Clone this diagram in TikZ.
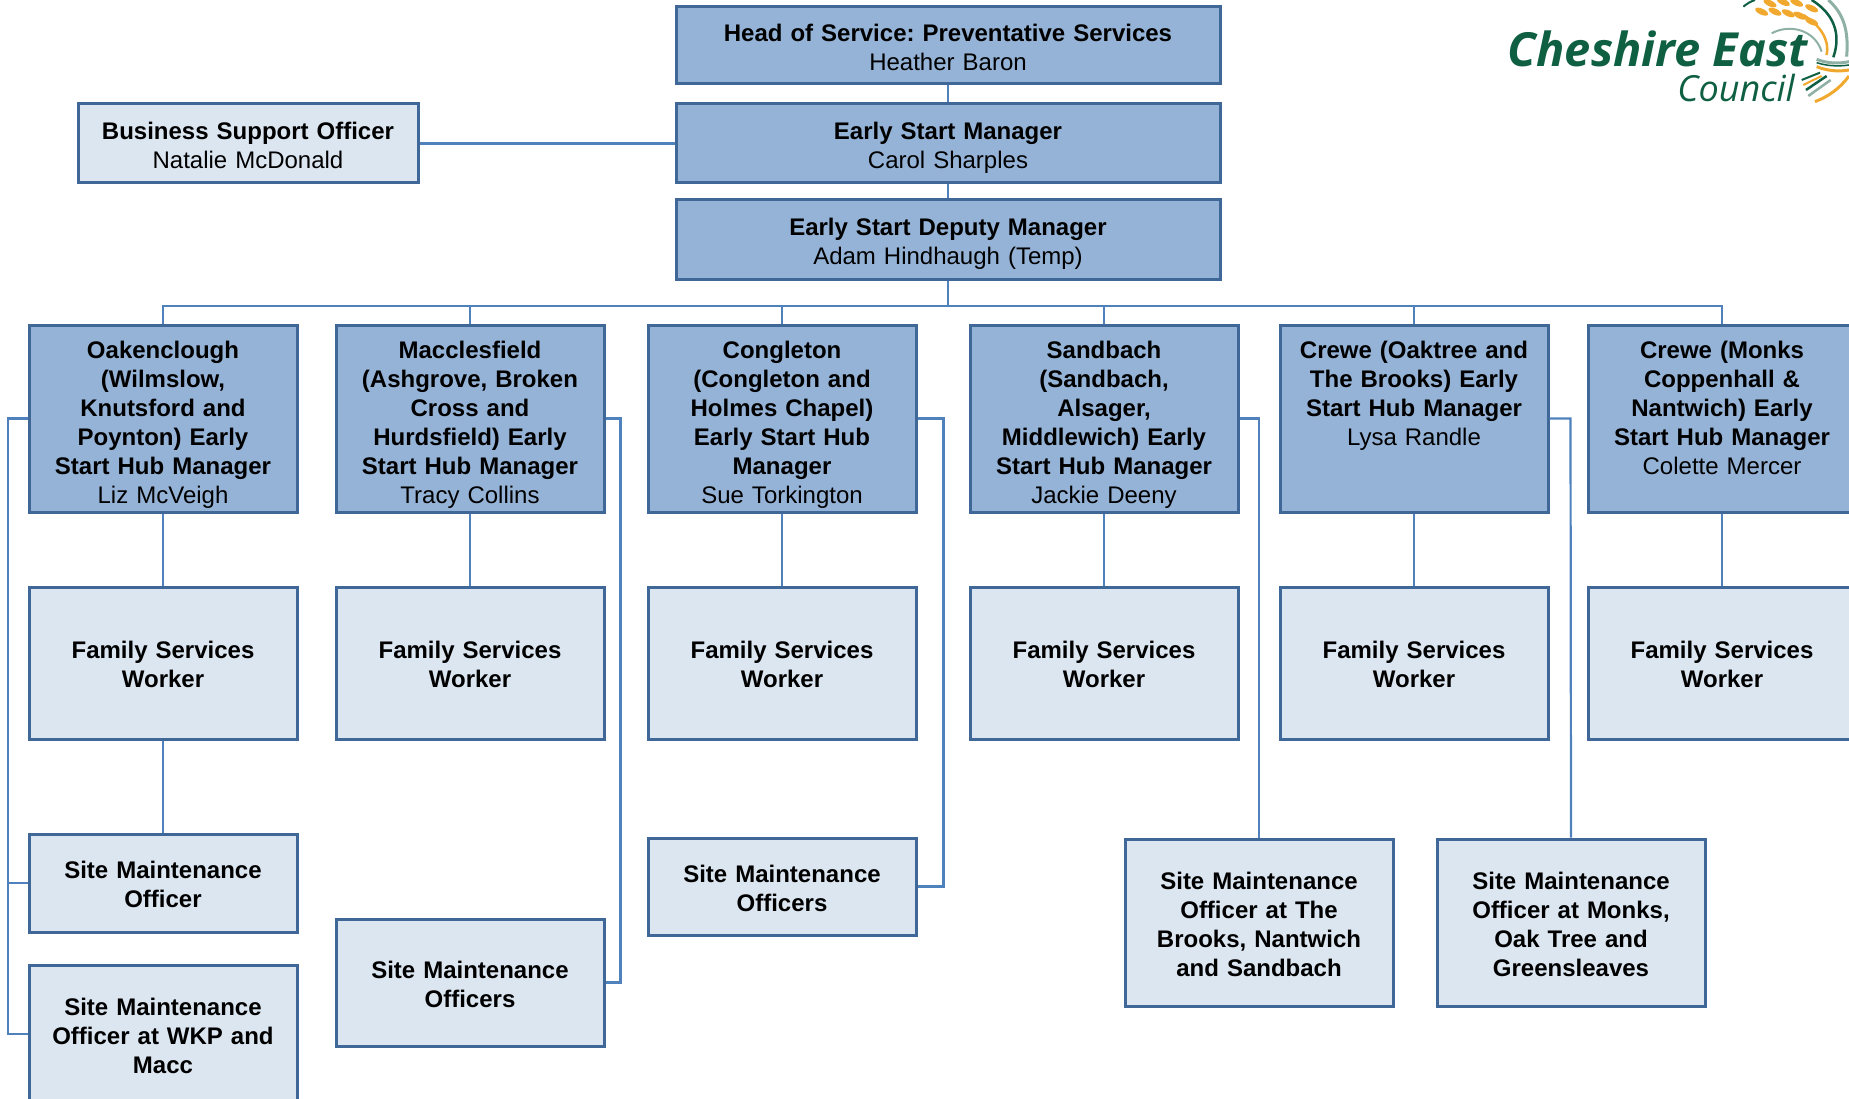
\documentclass[tikz,border=0pt]{standalone}
\usepackage{fontspec}
\usetikzlibrary{shapes.geometric}
\setmainfont{Liberation Sans}
\newfontfamily\logofont{Open Sans}
\definecolor{boxline}{HTML}{3F6797}
\definecolor{linkline}{HTML}{4F81BD}
\definecolor{darkfill}{HTML}{95B3D7}
\definecolor{palefill}{HTML}{DCE6F1}
\definecolor{logogreen}{HTML}{0F6043}
\definecolor{logoyellow}{HTML}{F0A92E}
\definecolor{logogrey}{HTML}{8FB0A5}
\frenchspacing
\begin{document}
\begin{tikzpicture}[x=1pt,y=-1pt]
    \tikzstyle{orgbox} = [rectangle, draw=boxline, line width=3pt, inner sep=0pt, text centered, text=black, font=\fontsize{24}{29}\selectfont, execute at begin node={\rule{0pt}{26.5pt}}, execute at end node={\rule[-6pt]{0pt}{6pt}}]
    \tikzstyle{dark} = [orgbox, fill=darkfill, text width=268pt, minimum height=187pt, execute at begin node={\rule{0pt}{30.5pt}}]
    \tikzstyle{pale} = [orgbox, fill=palefill, text width=268pt, minimum height=152pt]
    \tikzstyle{wide} = [orgbox, fill=darkfill, text width=544pt, minimum height=79pt]
    \tikzstyle{link} = [draw=linkline, line width=2.2pt]
    \tikzstyle{grain} = [fill=logoyellow, ellipse, inner sep=0pt, minimum width=14pt, minimum height=6pt, rotate=-25]

    \clip (0,0) rectangle (1849,1099);

    \node[wide, minimum height=77pt] (head) at (948,45.5) {\textbf{Head of Service: Preventative Services}\\Heather Baron};
    \node[wide, below of=head, node distance=98pt] (manager) {\textbf{Early Start Manager}\\Carol Sharples};
    \node[wide, below of=manager, node distance=96.5pt, minimum height=80pt] (deputy) {\textbf{Early Start Deputy Manager}\\Adam Hindhaugh (Temp)};
    \node[orgbox, fill=palefill, text width=340pt, minimum height=79pt, left of=manager, node distance=700pt] (support) {\textbf{Business Support Officer}\\Natalie McDonald};

    \node[dark] (oak) at (163,418.5) {\textbf{Oakenclough}\\\textbf{(Wilmslow,}\\\textbf{Knutsford and}\\\textbf{Poynton) Early}\\\textbf{Start Hub Manager}\\Liz McVeigh};
    \node[dark, right of=oak, node distance=307pt] (mac) {\textbf{Macclesfield}\\\textbf{(Ashgrove, Broken}\\\textbf{Cross and}\\\textbf{Hurdsfield) Early}\\\textbf{Start Hub Manager}\\Tracy Collins};
    \node[dark, right of=mac, node distance=312pt] (cong) {\textbf{Congleton}\\\textbf{(Congleton and}\\\textbf{Holmes Chapel)}\\\textbf{Early Start Hub}\\\textbf{Manager}\\Sue Torkington};
    \node[dark, right of=cong, node distance=322pt] (sand) {\textbf{Sandbach}\\\textbf{(Sandbach,}\\\textbf{Alsager,}\\\textbf{Middlewich) Early}\\\textbf{Start Hub Manager}\\Jackie Deeny};
    \node[dark, right of=sand, node distance=310pt] (oaktree) {\textbf{Crewe (Oaktree and}\\\textbf{The Brooks) Early}\\\textbf{Start Hub Manager}\\Lysa Randle\\~\\~};
    \node[dark, right of=oaktree, node distance=308pt] (monks) {\textbf{Crewe (Monks}\\\textbf{Coppenhall \&}\\\textbf{Nantwich) Early}\\\textbf{Start Hub Manager}\\Colette Mercer\\~};

    \node[pale, below of=oak, node distance=244.5pt] (fswa) {\textbf{Family Services}\\\textbf{Worker}};
    \node[pale, below of=mac, node distance=244.5pt] (fswb) {\textbf{Family Services}\\\textbf{Worker}};
    \node[pale, below of=cong, node distance=244.5pt] (fswc) {\textbf{Family Services}\\\textbf{Worker}};
    \node[pale, below of=sand, node distance=244.5pt] (fswd) {\textbf{Family Services}\\\textbf{Worker}};
    \node[pale, below of=oaktree, node distance=244.5pt] (fswe) {\textbf{Family Services}\\\textbf{Worker}};
    \node[pale, below of=monks, node distance=244.5pt] (fswf) {\textbf{Family Services}\\\textbf{Worker}};

    \node[pale, below of=fswa, node distance=220pt, minimum height=98pt] (sitea) {\textbf{Site Maintenance}\\\textbf{Officer}};
    \node[pale, below of=sitea, node distance=151pt, minimum height=138pt] (wkp) {\textbf{Site Maintenance}\\\textbf{Officer at WKP and}\\\textbf{Macc}};
    \node[pale, below of=fswb, node distance=319.5pt, minimum height=127pt] (siteb) {\textbf{Site Maintenance}\\\textbf{Officers}};
    \node[pale, below of=fswc, node distance=223.5pt, minimum height=97pt] (sitec) {\textbf{Site Maintenance}\\\textbf{Officers}};
    \node[pale, below of=fswd, node distance=259.5pt, xshift=155pt, minimum height=167pt] (brooks) {\textbf{Site Maintenance}\\\textbf{Officer at The}\\\textbf{Brooks, Nantwich}\\\textbf{and Sandbach}};
    \node[pale, right of=brooks, node distance=312pt, minimum height=167pt] (oakgreen) {\textbf{Site Maintenance}\\\textbf{Officer at Monks,}\\\textbf{Oak Tree and}\\\textbf{Greensleaves}};

    \coordinate (trunk) at (948,306);
    \coordinate (bus) at (8,418.5);

    \draw[link] (head) -- (manager);
    \draw[link] (manager) -- (deputy);
    \draw[link] (support) -- (manager);
    \draw[link] (deputy) -- (trunk);
    \draw[link] (trunk) -| (oak.north);
    \draw[link] (trunk) -| (mac.north);
    \draw[link] (trunk) -| (cong.north);
    \draw[link] (trunk) -| (sand.north);
    \draw[link] (trunk) -| (oaktree.north);
    \draw[link] (trunk) -| (monks.north);

    \draw[link] (oak) -- (fswa);
    \draw[link] (mac) -- (fswb);
    \draw[link] (cong) -- (fswc);
    \draw[link] (sand) -- (fswd);
    \draw[link] (oaktree) -- (fswe);
    \draw[link] (monks) -- (fswf);
    \draw[link] (fswa) -- (sitea);

    \draw[link] (oak.west) -- (bus) |- (wkp.west);
    \draw[link] (bus) |- (sitea.west);
    \draw[link] (mac.east) -- ++(15,0) |- (siteb.east);
    \draw[link] (cong.east) -- ++(26,0) |- (sitec.east);
    \draw[link] (sand.east) -| (brooks.north);
    \draw[link] (oaktree.east) -- ++(21,0) -- (oakgreen.north);

    \node[anchor=base east, inner sep=0pt, text=logogreen, font=\logofont\bfseries\itshape\fontsize{47}{47}\selectfont] (cheshire) at (1808,67) {Cheshire East};
    \node[anchor=base east, inner sep=0pt, text=logogreen, font=\logofont\itshape\fontsize{36}{36}\selectfont] (council) at (1795,102) {Council};

    \begin{scope}[shift={(1450,0)},x=0.3333pt,y=-0.3333pt]
        \foreach \gx/\gy in {960/10,1000/6,1040/8,1085/25,935/35,975/35,1015/40,1050/47,1085/65}
            \node[grain] at (\gx,\gy) {};
        \draw[logogreen, line width=2pt] (880,20) .. controls (890,12) and (900,5) .. (915,0);
        \draw[logogrey, line width=2pt] (965,100) .. controls (1020,70) and (1095,90) .. (1115,155);
        \draw[logogreen, line width=2.5pt] (1085,0) .. controls (1150,40) and (1175,100) .. (1150,172);
        \draw[logoyellow, line width=2.5pt] (1060,45) .. controls (1110,75) and (1140,120) .. (1130,165);
        \draw[logogrey, line width=3pt] (1135,0) .. controls (1180,40) and (1197,90) .. (1190,170);
        \draw[logogrey, line width=3pt] (1100,178) .. controls (1130,190) and (1165,192) .. (1197,185);
        \draw[logogreen, line width=1.5pt] (1100,188) .. controls (1130,198) and (1165,200) .. (1197,195);
        \draw[logoyellow, line width=3pt] (1100,200) .. controls (1130,212) and (1165,216) .. (1197,210);
        \draw[logoyellow, line width=3pt] (1197,228) .. controls (1170,265) and (1135,290) .. (1095,305);
        \draw[logogreen, line width=2pt] (1055,240) -- (1110,218);
        \draw[logoyellow, line width=2pt] (1060,255) -- (1115,228);
        \draw[logogreen, line width=2.5pt] (1068,270) -- (1130,228);
        \draw[logogrey, line width=2.5pt] (1075,288) -- (1142,240);
    \end{scope}
\end{tikzpicture}
\end{document}
